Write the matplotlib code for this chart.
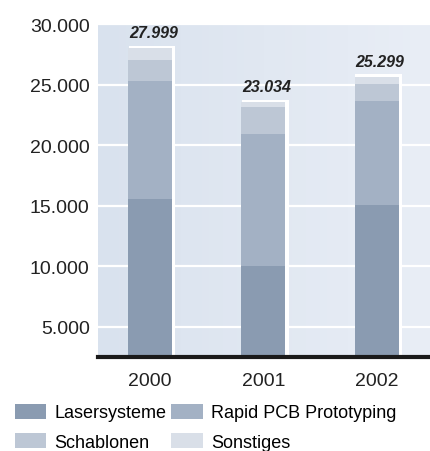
import numpy as np
import matplotlib.pyplot as plt
from matplotlib.colors import LinearSegmentedColormap

# Daten (Umsatz nach Segment, in TEUR)
jahre = ['2000', '2001', '2002']
lasersysteme = [15550, 9980, 15020]
rapid_pcb = [9720, 10930, 8650]
schablonen = [1800, 2260, 1410]
sonstiges = [930, 365, 560]
summen_text = ['27.999', '23.034', '25.299']

segmente = ['Lasersysteme', 'Rapid PCB Prototyping', 'Schablonen', 'Sonstiges']
farben = ['#8a9bb1', '#a3b1c4', '#bdc7d5', '#d9dfe8']

plt.rcParams['font.family'] = ['Liberation Sans', 'DejaVu Sans']

fig = plt.figure(figsize=(4.31, 4.52), dpi=100)
ax = fig.add_axes([0.2274, 0.208, 0.7726, 0.7365])

x = np.arange(len(jahre))
breite = 0.39
ymin, ymax = 2500, 30000

# Hintergrund mit leichtem Verlauf
verlauf = LinearSegmentedColormap.from_list('bg', ['#d9e2ee', '#e9eef6'])
ax.imshow(np.linspace(0, 1, 256).reshape(1, -1), cmap=verlauf, aspect='auto',
          extent=[-0.46, 2.48, ymin, ymax], zorder=0)

ax.set_xlim(-0.46, 2.48)
ax.set_ylim(ymin, ymax)

for yv in range(5000, 30001, 5000):
    ax.axhline(yv, color='white', lw=1.6, zorder=1)

# weißer "Rahmen" rechts und oben
gesamt = np.array(lasersysteme) + np.array(rapid_pcb) + np.array(schablonen) + np.array(sonstiges)
ax.bar(x + 0.018, gesamt + 230 - ymin, bottom=ymin, width=breite + 0.02,
       color='white', zorder=2)

unten = np.full(len(jahre), float(ymin))
for werte, farbe, name in zip([lasersysteme, rapid_pcb, schablonen, sonstiges], farben, segmente):
    hoehe = np.array(werte, dtype=float)
    if name == 'Lasersysteme':
        hoehe = hoehe - ymin
    ax.bar(x, hoehe, bottom=unten, width=breite, color=farbe, label=name, zorder=3)
    unten = unten + hoehe

for xi, g, t in zip(x, gesamt, summen_text):
    ax.text(xi + 0.03, g + 650, t, ha='center', va='bottom', fontsize=11.5,
            fontweight='bold', fontstyle='italic', color='#222222', zorder=4)

for s in ['left', 'right', 'top']:
    ax.spines[s].set_visible(False)
ax.spines['bottom'].set_linewidth(3)
ax.spines['bottom'].set_color('#1a1a1a')
ax.spines['bottom'].set_zorder(5)

ax.set_xticks(x)
ax.set_xticklabels(jahre)
ax.set_yticks(range(5000, 30001, 5000))
ax.set_yticklabels(['5.000', '10.000', '15.000', '20.000', '25.000', '30.000'])
ax.tick_params(axis='both', length=0, labelsize=14, colors='#222222')
ax.tick_params(axis='x', pad=11)
ax.tick_params(axis='y', pad=6)

handles, labels = ax.get_legend_handles_labels()
reihenfolge = [0, 2, 1, 3]
fig.legend([handles[i] for i in reihenfolge], [labels[i] for i in reihenfolge],
           ncol=2, loc='lower left', bbox_to_anchor=(0.005, -0.028), frameon=False,
           fontsize=13, handlelength=1.75, handleheight=0.9, handletextpad=0.45,
           columnspacing=0.25, labelspacing=0.66, borderaxespad=0.3)

fig.savefig('out.png', dpi=100)
